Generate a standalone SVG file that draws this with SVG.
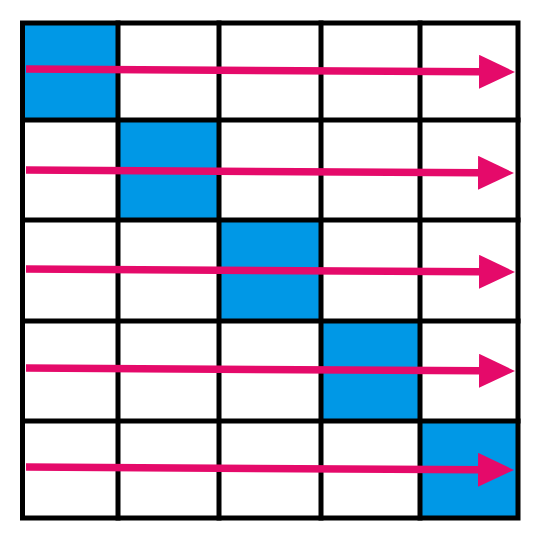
<svg xmlns="http://www.w3.org/2000/svg" width="546" height="549" viewBox="0 0 546 549">
<style>
.cell{fill:#0098E6;stroke:none}
.grid{stroke:#000;stroke-width:5;fill:none;stroke-linecap:square}
.arrow{stroke:#E50A6A;stroke-width:7.5;fill:none}
</style>
<defs>
<marker id="head" markerUnits="userSpaceOnUse" markerWidth="40" markerHeight="40" refX="1" refY="17" orient="auto">
<path d="M0,0 L36,17 L0,34 Z" fill="#E50A6A"/>
</marker>
</defs>
<rect width="546" height="549" fill="#fff"/>
<g id="cells">
<rect id="c00" class="cell" x="23" y="23" width="95" height="97"/>
<rect id="c11" class="cell" x="118" y="120" width="101" height="100"/>
<rect id="c22" class="cell" x="219" y="220" width="102" height="101"/>
<rect id="c33" class="cell" x="321" y="321" width="99" height="100"/>
<rect id="c44" class="cell" x="420" y="421" width="98" height="97"/>
</g>
<g id="grid" class="grid">
<rect x="22.5" y="23" width="495.5" height="495"/>
<line x1="118" y1="23" x2="118" y2="518"/>
<line x1="219" y1="23" x2="219" y2="518"/>
<line x1="321" y1="23" x2="321" y2="518"/>
<line x1="420" y1="23" x2="420" y2="518"/>
<line x1="22.5" y1="120" x2="518" y2="120"/>
<line x1="22.5" y1="220" x2="518" y2="220"/>
<line x1="22.5" y1="321" x2="518" y2="321"/>
<line x1="22.5" y1="421" x2="518" y2="421"/>
</g>
<g id="connectors" class="arrow">
<path d="M26,69 L480,71.8" marker-end="url(#head)"/>
<path d="M26,170 L479,172.8" marker-end="url(#head)"/>
<path d="M26,269 L480,271.8" marker-end="url(#head)"/>
<path d="M26,368 L480,370.8" marker-end="url(#head)"/>
<path d="M26,467 L479,469.8" marker-end="url(#head)"/>
</g>
</svg>
